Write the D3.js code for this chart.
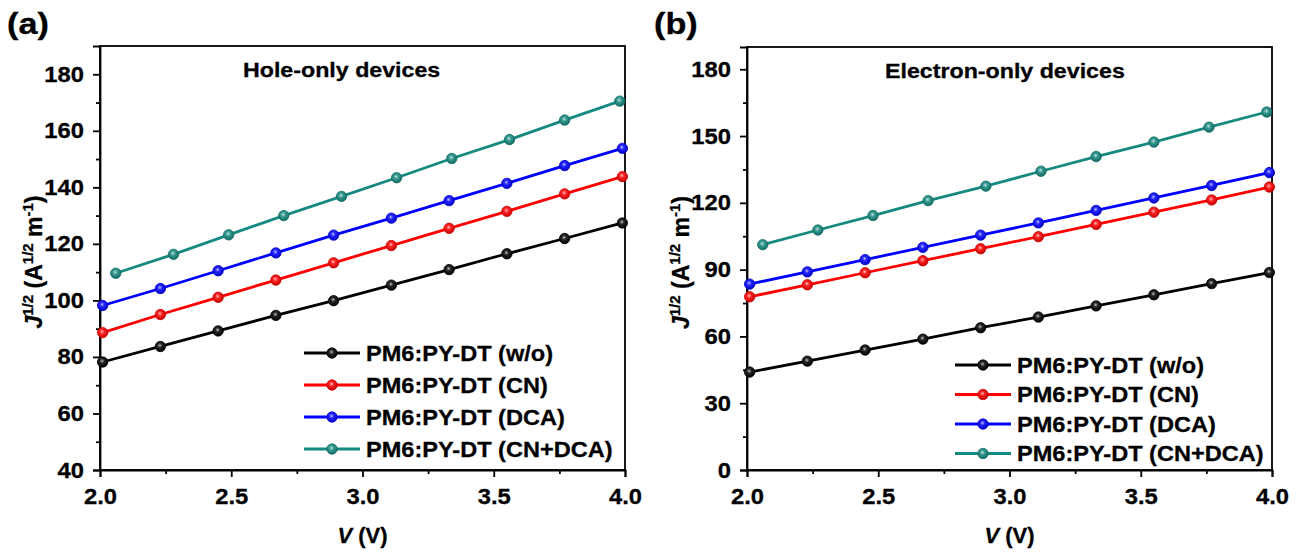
<!DOCTYPE html>
<html>
<head>
<meta charset="utf-8">
<script src="https://cdn.jsdelivr.net/npm/d3@7"></script>
<style>
  body { margin: 0; background: #fff; }
  svg text { font-family: "Liberation Sans", Arial, sans-serif; font-weight: bold; fill: #000; stroke: #000; stroke-width: 0.3px; }
</style>
</head>
<body>
<div id="chart"></div>
<script>
// series names and colours
const seriesNames = ["PM6:PY-DT (w/o)", "PM6:PY-DT (CN)", "PM6:PY-DT (DCA)", "PM6:PY-DT (CN+DCA)"];
const seriesColors = ["#000000", "#ff0000", "#0000ff", "#168a80"];

// (a) hole-only devices, V in volts, J^1/2 values
const holeVolts = [2.01, 2.23, 2.45, 2.67, 2.89, 3.11, 3.33, 3.55, 3.77, 3.99];
const holeVoltsCnDca = [2.06, 2.28, 2.49, 2.70, 2.92, 3.13, 3.34, 3.56, 3.77, 3.98];
const holeWo = [78.2, 83.7, 89.2, 94.7, 99.9, 105.4, 110.9, 116.5, 121.9, 127.4];
const holeCn = [88.6, 95.0, 101.1, 107.2, 113.3, 119.4, 125.5, 131.5, 137.7, 143.8];
const holeDca = [98.2, 104.2, 110.5, 116.8, 123.1, 129.1, 135.3, 141.4, 147.7, 153.8];
const holeCnDca = [109.6, 116.3, 123.2, 130.0, 136.8, 143.4, 150.2, 156.9, 163.8, 170.5];

// (b) electron-only devices
const elecVolts = [2.01, 2.23, 2.45, 2.67, 2.89, 3.11, 3.33, 3.55, 3.77, 3.99];
const elecVoltsCnDca = [2.06, 2.27, 2.48, 2.69, 2.91, 3.12, 3.33, 3.55, 3.76, 3.98];
const elecWo = [44.0, 48.9, 53.9, 58.8, 63.9, 68.7, 73.7, 78.7, 83.7, 88.7];
const elecCn = [77.8, 83.2, 88.6, 94.0, 99.4, 104.8, 110.3, 115.8, 121.3, 127.1];
const elecDca = [83.5, 89.0, 94.5, 100.0, 105.5, 111.0, 116.6, 122.2, 127.8, 133.6];
const elecCnDca = [101.2, 107.8, 114.3, 121.0, 127.5, 134.2, 140.8, 147.3, 154.0, 160.8];

// ticks
const xTicks = [2.0, 2.5, 3.0, 3.5, 4.0];
const xMinor = [2.25, 2.75, 3.25, 3.75];
const holeYTicks = [40, 60, 80, 100, 120, 140, 160, 180];
const holeYMinor = [50, 70, 90, 110, 130, 150, 170];
const elecYTicks = [0, 30, 60, 90, 120, 150, 180];
const elecYMinor = [15, 45, 75, 105, 135, 165];

const width = 1302, height = 553;

let svg = d3.select("#chart")
  .append("svg")
  .attr("width", width)
  .attr("height", height);

// sphere-like marker gradients
let defs = svg.append("defs");
seriesColors.forEach(function(c, i) {
  let grad = defs.append("radialGradient")
    .attr("id", "ball" + i)
    .attr("cx", "45%").attr("cy", "40%").attr("r", "60%");
  grad.append("stop").attr("offset", "0%").attr("stop-color", d3.interpolateRgb(c, "#fff")(0.75));
  grad.append("stop").attr("offset", "35%").attr("stop-color", d3.interpolateRgb(c, "#fff")(0.15));
  grad.append("stop").attr("offset", "100%").attr("stop-color", d3.color(c).darker(0.8));
});

// squeeze/stretch text horizontally like the reference
function stretch(sel, k)
{
  sel.each(function() {
    let w = this.getComputedTextLength();
    d3.select(this).attr("textLength", w * k).attr("lengthAdjust", "spacingAndGlyphs");
  });
}

function drawPanel(p)
{
  let x = d3.scaleLinear().domain([2, 4]).range([p.left, p.right]);
  let y = d3.scaleLinear().domain(p.yDomain).range([p.bottom, p.top]);
  let g = svg.append("g");

  //axes with major and minor ticks
  let xAxis = g.append("g")
    .attr("transform", "translate(0," + p.bottom + ")")
    .call(d3.axisBottom(x).tickValues(xTicks).tickFormat(d3.format(".1f")).tickSize(7).tickPadding(11));
  g.append("g")
    .attr("transform", "translate(0," + p.bottom + ")")
    .call(d3.axisBottom(x).tickValues(xMinor).tickFormat("").tickSize(4))
    .select(".domain").remove();
  let yAxis = g.append("g")
    .attr("transform", "translate(" + p.left + ",0)")
    .call(d3.axisLeft(y).tickValues(p.yTicks).tickSize(7).tickPadding(9));
  g.append("g")
    .attr("transform", "translate(" + p.left + ",0)")
    .call(d3.axisLeft(y).tickValues(p.yMinor).tickFormat("").tickSize(4))
    .select(".domain").remove();

  g.selectAll(".tick line").attr("stroke", "#000").attr("stroke-width", 1.8);
  g.selectAll(".domain").attr("stroke", "#000").attr("stroke-width", 1.8);
  g.selectAll(".tick text").attr("font-size", "22px").attr("fill", "#000");
  stretch(xAxis.selectAll(".tick text"), 1.08);
  stretch(yAxis.selectAll(".tick text"), 1.08);

  //frame
  g.append("rect")
    .attr("x", p.left)
    .attr("y", p.top)
    .attr("width", p.right - p.left)
    .attr("height", p.bottom - p.top)
    .attr("fill", "none")
    .attr("stroke", "#000")
    .attr("stroke-width", 1.8);

  //lines and markers
  let line = d3.line().x(function(d) { return x(d[0]); }).y(function(d) { return y(d[1]); });
  p.series.forEach(function(s, i) {
    let pts = s.ys.map(function(v, k) { return [s.xs[k], v]; });
    g.append("path")
      .datum(pts)
      .attr("d", line)
      .attr("fill", "none")
      .attr("stroke", seriesColors[i])
      .attr("stroke-width", 2.8);
    g.selectAll(".dot" + i)
      .data(pts)
      .enter()
      .append("circle")
      .attr("class", "dot" + i)
      .attr("cx", function(d) { return x(d[0]); })
      .attr("cy", function(d) { return y(d[1]); })
      .attr("r", 5.2)
      .attr("fill", "url(#ball" + i + ")")
      .attr("stroke", d3.color(seriesColors[i]).darker(0.6))
      .attr("stroke-width", 0.8);
  });

  //legend
  seriesNames.forEach(function(name, i) {
    let ly = p.legendY + i * p.legendStep;
    g.append("line")
      .attr("x1", p.legendX).attr("x2", p.legendX + 56)
      .attr("y1", ly).attr("y2", ly)
      .attr("stroke", seriesColors[i])
      .attr("stroke-width", 2.8);
    g.append("circle")
      .attr("cx", p.legendX + 28).attr("cy", ly)
      .attr("r", 5.2)
      .attr("fill", "url(#ball" + i + ")")
      .attr("stroke", d3.color(seriesColors[i]).darker(0.6))
      .attr("stroke-width", 0.8);
    let t = g.append("text")
      .attr("x", p.legendX + 62)
      .attr("y", ly)
      .attr("dy", "0.36em")
      .attr("font-size", "22px")
      .text(name);
    stretch(t, 1.07);
  });

  //title inside the plot
  let title = g.append("text")
    .attr("x", p.left + p.titleDx)
    .attr("y", p.top + 31)
    .attr("font-size", "20px")
    .text(p.title);
  stretch(title, 1.16);

  //panel letter
  let letter = g.append("text")
    .attr("x", p.left - 93)
    .attr("y", 34)
    .attr("font-size", "29px")
    .text(p.letter);
  stretch(letter, 1.18);

  //axis titles
  let xt = g.append("text")
    .attr("x", (p.left + p.right) / 2)
    .attr("y", 543)
    .attr("text-anchor", "middle")
    .attr("font-size", "22px");
  xt.append("tspan").attr("font-style", "italic").text("V");
  xt.append("tspan").text(" (V)");

  let yt = g.append("text")
    .attr("transform", "translate(" + (p.left - 58) + "," + ((p.top + p.bottom) / 2 + 4) + ") rotate(-90)")
    .attr("text-anchor", "middle")
    .attr("font-size", "23px");
  yt.append("tspan").attr("font-style", "italic").text("J");
  yt.append("tspan").attr("font-size", "15px").attr("dy", "-9").text("1/2");
  yt.append("tspan").attr("dy", "9").text(" (A");
  yt.append("tspan").attr("font-size", "15px").attr("dy", "-9").text("1/2");
  yt.append("tspan").attr("dy", "9").text(" m");
  yt.append("tspan").attr("font-size", "15px").attr("dy", "-9").text("-1");
  yt.append("tspan").attr("dy", "9").text(")");
}

drawPanel({
  left: 100, right: 625, top: 46, bottom: 470,
  yDomain: [40, 190], yTicks: holeYTicks, yMinor: holeYMinor,
  series: [
    { xs: holeVolts, ys: holeWo },
    { xs: holeVolts, ys: holeCn },
    { xs: holeVolts, ys: holeDca },
    { xs: holeVoltsCnDca, ys: holeCnDca }
  ],
  title: "Hole-only devices", titleDx: 143, letter: "(a)",
  legendX: 304, legendY: 353, legendStep: 32
});

drawPanel({
  left: 747, right: 1272, top: 47, bottom: 470,
  yDomain: [0, 190], yTicks: elecYTicks, yMinor: elecYMinor,
  series: [
    { xs: elecVolts, ys: elecWo },
    { xs: elecVolts, ys: elecCn },
    { xs: elecVolts, ys: elecDca },
    { xs: elecVoltsCnDca, ys: elecCnDca }
  ],
  title: "Electron-only devices", titleDx: 138, letter: "(b)",
  legendX: 955, legendY: 365, legendStep: 29.5
});
</script>
</body>
</html>
